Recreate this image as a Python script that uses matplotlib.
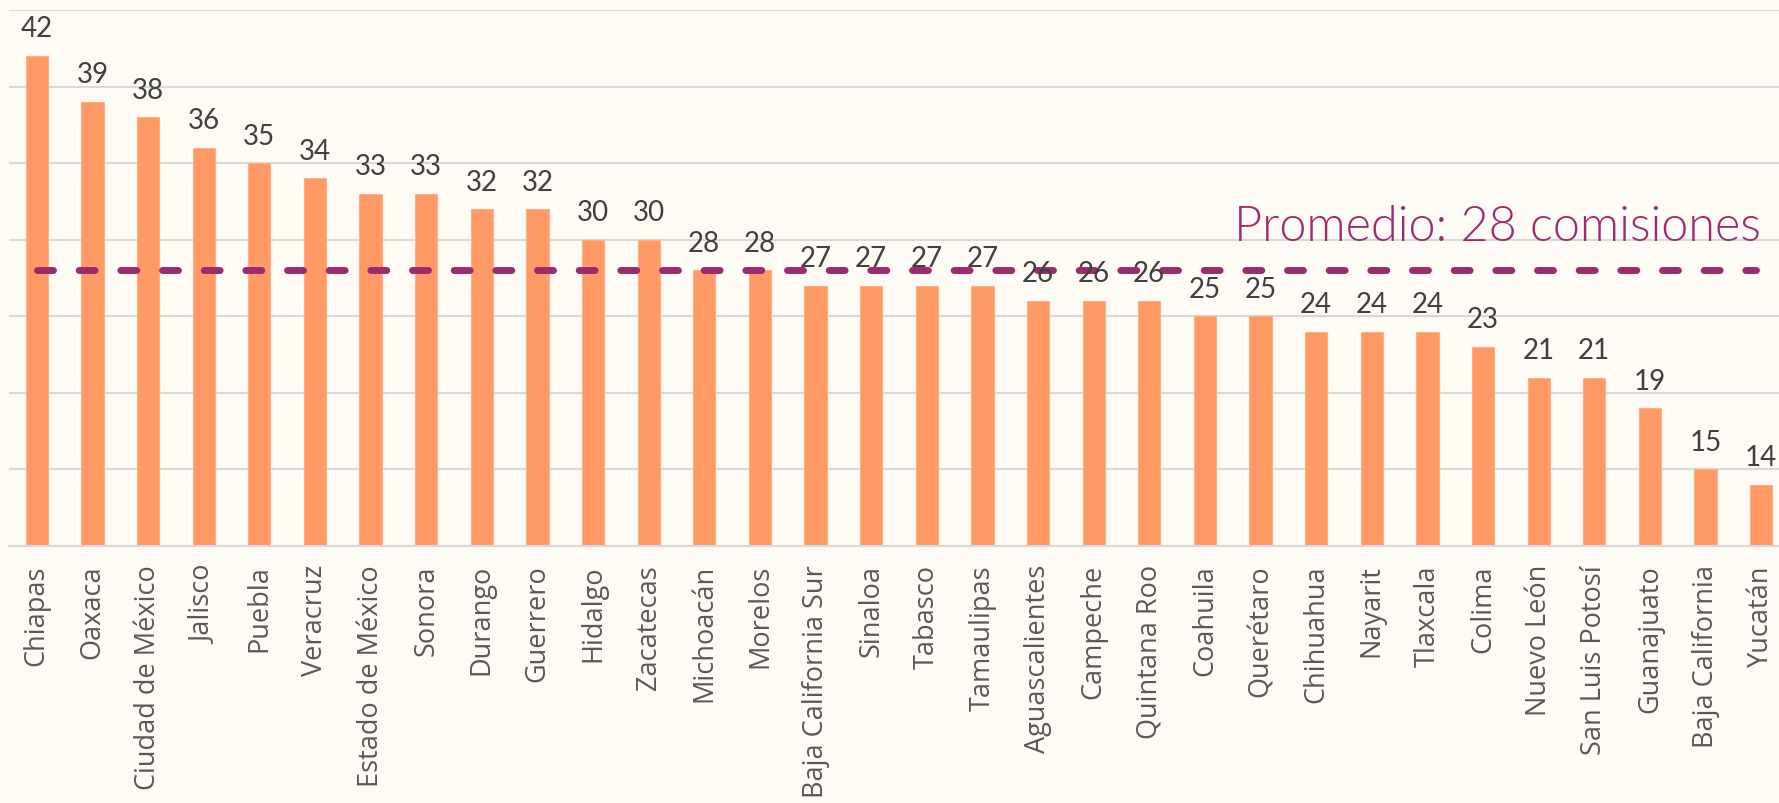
import matplotlib
matplotlib.use("Agg")
import matplotlib.pyplot as plt
import numpy as np


estados = [
    "Chiapas", "Oaxaca", "Ciudad de México", "Jalisco", "Puebla", "Veracruz",
    "Estado de México", "Sonora", "Durango", "Guerrero", "Hidalgo", "Zacatecas",
    "Michoacán", "Morelos", "Baja California Sur", "Sinaloa", "Tabasco",
    "Tamaulipas", "Aguascalientes", "Campeche", "Quintana Roo", "Coahuila",
    "Querétaro", "Chihuahua", "Nayarit", "Tlaxcala", "Colima", "Nuevo León",
    "San Luis Potosí", "Guanajuato", "Baja California", "Yucatán",
]
comisiones = [
    42, 39, 38, 36, 35, 34, 33, 33, 32, 32, 30, 30, 28, 28, 27, 27, 27, 27,
    26, 26, 26, 25, 25, 24, 24, 24, 23, 21, 21, 19, 15, 14,
]
promedio = 28
promedio_label = "Promedio: 28 comisiones"

BG = "#FEFBF4"
BAR = "#FF9966"
LINE = "#9E2A6E"

fig = plt.figure(figsize=(17.79, 8.04), dpi=100, facecolor=BG)
# plot area: left edge ~9px, right edge runs a bit past the figure
ax = fig.add_axes([9 / 1779, 257 / 804, 1780 / 1779, 536 / 804], facecolor=BG)

x = np.arange(len(estados))
ax.bar(x, comisiones, width=0.4, bottom=0, color=BAR, edgecolor="#FFB08A",
       linewidth=0.8, zorder=2)

for xi, v in zip(x, comisiones):
    ax.text(xi, v + 0.95, str(v), ha="center", va="bottom", fontsize=20,
            family="Lato", color="#404040", zorder=4)

# average line, runs to the right end of the label
ax.plot([0, 30.9], [promedio, promedio], color=LINE, lw=5,
        dashes=(2.3, 3.7), dash_capstyle="round", zorder=3)
ax.text(31.0, 30.0, promedio_label, ha="right", va="baseline", fontsize=35,
        family="Lato", fontweight=300, color=LINE, zorder=4)

ax.set_ylim(10, 45)
ax.set_xlim(-0.5, len(estados) - 0.5)
ax.set_yticks(np.arange(10, 46, 5))
ax.yaxis.grid(True, color="#D9D9D9", lw=1.5, zorder=0)
ax.set_axisbelow(True)
ax.tick_params(axis="y", left=False, labelleft=False)
ax.tick_params(axis="x", length=0, pad=13)
ax.set_xticks(x)
ax.set_xticklabels(estados, rotation=90, fontsize=19.5, family="Open Sans",
                   color="#595959")

for side in ["top", "right", "left"]:
    ax.spines[side].set_visible(False)
ax.spines["bottom"].set_color("#D9D9D9")
ax.spines["bottom"].set_linewidth(1.5)

fig.savefig("out.png", dpi=100, facecolor=BG)
